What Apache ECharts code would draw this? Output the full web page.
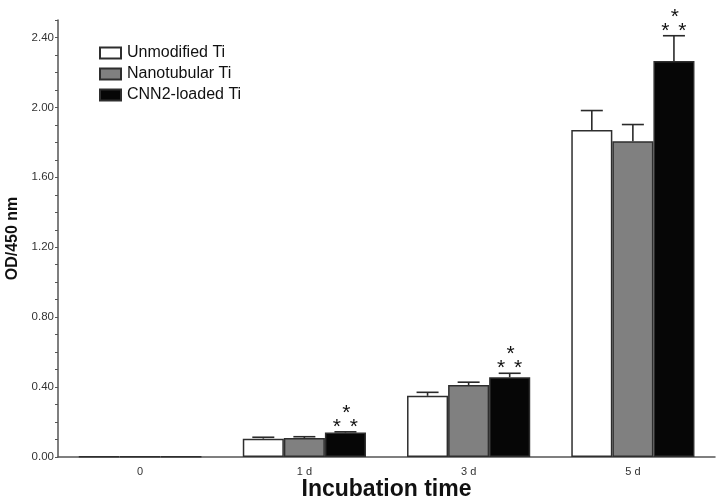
<!DOCTYPE html>
<html><head><meta charset="utf-8">
<script src="https://cdn.jsdelivr.net/npm/echarts@6/dist/echarts.min.js"></script>
<style>html,body{margin:0;padding:0;background:#fff}#c{width:723px;height:502px}</style>
</head><body><div id="c"></div>
<script>
var categories = ['0', '1 d', '3 d', '5 d'];
var seriesNames = ['Unmodified Ti', 'Nanotubular Ti', 'CNN2-loaded Ti'];
var unmodified = [0.003, 0.105, 0.350, 1.870];
var nanotubular = [0.003, 0.108, 0.412, 1.806];
var cnn2 = [0.003, 0.140, 0.456, 2.266];
var unmodifiedErr = [0, 0.008, 0.020, 0.112];
var nanotubularErr = [0, 0.008, 0.016, 0.096];
var cnn2Err = [0, 0.004, 0.023, 0.144];
var significant = [false, true, true, true];
var yTickLabels = ['0.00', '0.40', '0.80', '1.20', '1.60', '2.00', '2.40'];

var fills = ['#ffffff', '#808080', '#060606'];
var values = [unmodified, nanotubular, cnn2];
var errs = [unmodifiedErr, nanotubularErr, cnn2Err];
var FONT = 'Liberation Sans, Arial, Helvetica, sans-serif';

var chart = echarts.init(document.getElementById('c'), null, {renderer: 'canvas'});

function errSeries(si) {
  var data = categories.map(function (c, i) { return [i, values[si][i], errs[si][i], significant[i] ? 1 : 0]; });
  return {
    type: 'custom',
    silent: true,
    z: 5,
    renderItem: function (params, api) {
      var ci = api.value(0), v = api.value(1), e = api.value(2), sig = api.value(3);
      var band = api.size([1, 0])[0];
      var bw = band * 0.75 / 3;
      var c = api.coord([ci, v]);
      var x = c[0] + (si - 1) * bw;
      var yTop = api.coord([ci, v + e])[1];
      var children = [];
      if (e > 0) {
        children.push({type: 'line', shape: {x1: x, y1: c[1], x2: x, y2: yTop}, style: {stroke: '#2a2a2a', lineWidth: 1.6}});
        children.push({type: 'line', shape: {x1: x - 11, y1: yTop, x2: x + 11, y2: yTop}, style: {stroke: '#2a2a2a', lineWidth: 1.6}});
      }
      if (si === 2 && sig) {
        var st = {fill: '#111', font: '21px ' + FONT, align: 'center', verticalAlign: 'middle'};
        children.push({type: 'text', x: x - 8.5, y: yTop - 5, style: Object.assign({text: '*'}, st)});
        children.push({type: 'text', x: x + 8.5, y: yTop - 5, style: Object.assign({text: '*'}, st)});
        children.push({type: 'text', x: x + 1, y: yTop - 19, style: Object.assign({text: '*'}, st)});
      }
      return {type: 'group', children: children};
    },
    data: data
  };
}

var series = [];
for (var s = 0; s < 3; s++) {
  series.push({
    name: seriesNames[s],
    type: 'bar',
    data: values[s],
    barGap: '0%',
    barCategoryGap: '25%',
    itemStyle: {color: fills[s], borderColor: '#2e2e2e', borderWidth: 1.5},
    emphasis: {disabled: true}
  });
}
for (var s2 = 0; s2 < 3; s2++) series.push(errSeries(s2));

chart.setOption({
  animation: false,
  backgroundColor: '#fff',
  grid: {left: 58, right: 8, top: 20, bottom: 45, containLabel: false, outerBoundsMode: 'none'},
  legend: {
    data: seriesNames.map(function (n) { return {name: n, icon: 'rect'}; }),
    orient: 'vertical',
    left: 94, top: 40,
    itemWidth: 21, itemHeight: 11, itemGap: 5,
    textStyle: {fontFamily: FONT, fontSize: 16, color: '#111', padding: [0, 0, 0, 1]},
    selectedMode: false
  },
  xAxis: {
    type: 'category',
    data: categories,
    axisLine: {lineStyle: {color: '#555', width: 1.5}},
    axisTick: {alignWithLabel: true, length: 5, lineStyle: {color: '#555'}},
    axisLabel: {fontFamily: FONT, fontSize: 11, color: '#333', margin: 9},
    name: 'Incubation time',
    nameLocation: 'middle',
    nameGap: 21,
    nameMoveOverlap: false,
    nameTextStyle: {fontFamily: FONT, fontSize: 23, fontWeight: 'bold', color: '#111'}
  },
  yAxis: {
    type: 'value',
    min: 0, max: 2.5, interval: 0.1,
    axisLine: {show: true, lineStyle: {color: '#555', width: 1.5}},
    axisTick: {show: true, length: 3, lineStyle: {color: '#555'}},
    splitLine: {show: false},
    axisLabel: {
      fontFamily: FONT, fontSize: 11.5, color: '#333', margin: 4,
      formatter: function (v) {
        var k = Math.round(v / 0.4);
        if (Math.abs(v - k * 0.4) < 1e-6 && k < yTickLabels.length) return yTickLabels[k];
        return '';
      }
    },
    name: 'OD/450 nm',
    nameLocation: 'middle',
    nameRotate: 90,
    nameGap: 37,
    nameMoveOverlap: false,
    nameTextStyle: {fontFamily: FONT, fontSize: 16, fontWeight: 'bold', color: '#111'}
  },
  series: series
});
</script></body></html>
